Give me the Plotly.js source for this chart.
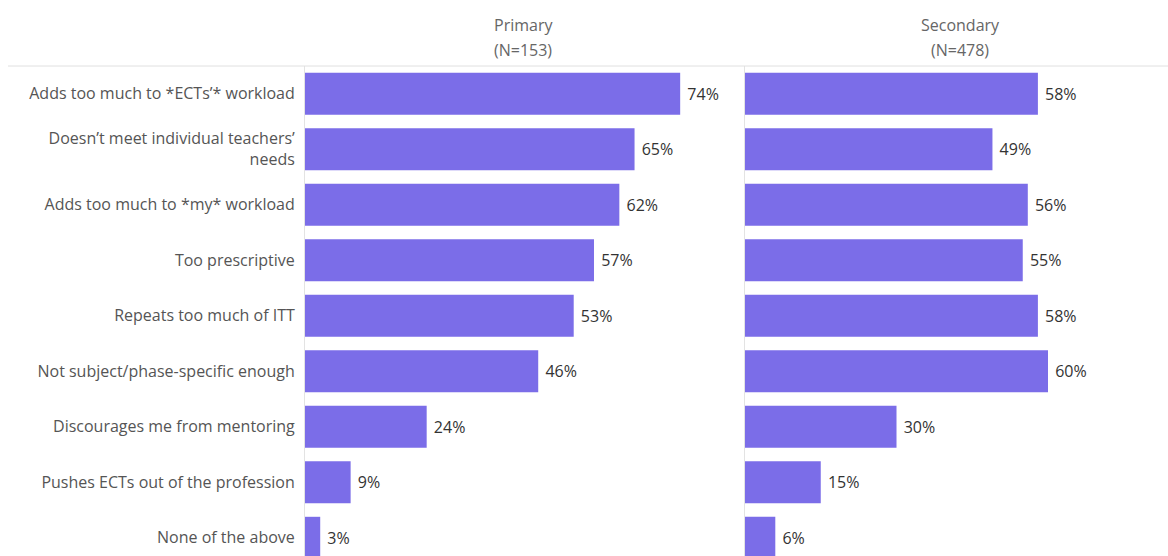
<!DOCTYPE html>
<html>
<head>
<meta charset="utf-8">
<script src="https://cdn.plot.ly/plotly-3.0.1.min.js"></script>
<style>html,body{margin:0;padding:0;background:#fff;}</style>
</head>
<body>
<div id="chart" style="width:1168px;height:556px;"></div>
<script>
const categories = [
  "Adds too much to *ECTs’* workload",
  "Doesn’t meet individual teachers’<br>needs",
  "Adds too much to *my* workload",
  "Too prescriptive",
  "Repeats too much of ITT",
  "Not subject/phase-specific enough",
  "Discourages me from mentoring",
  "Pushes ECTs out of the profession",
  "None of the above"
];
const primaryValues = [74, 65, 62, 57, 53, 46, 24, 9, 3];
const secondaryValues = [58, 49, 56, 55, 58, 60, 30, 15, 6];
const panelTitles = ["Primary", "Secondary"];
const panelNs = ["(N=153)", "(N=478)"];

(function () {
const W = 1168, H = 556;
const barColor = "#7b6de8";
const fontFam = "'Open Sans', 'DejaVu Sans', sans-serif";

function bar(vals, xa, ya) {
  return {
    type: "bar", orientation: "h",
    x: vals, y: categories,
    xaxis: xa, yaxis: ya,
    marker: {color: barColor},
    text: vals.map(v => "\u00a0" + v + "%"),
    textposition: "outside",
    textfont: {family: fontFam, size: 16, color: "#333"},
    cliponaxis: false,
    hoverinfo: "skip"
  };
}

const x1 = [305 / W, 740 / W];
const x2 = [745 / W, 1];
const topM = 66;
const plotH = H - topM;

const layout = {
  width: W, height: H,
  margin: {l: 0, r: 0, t: topM, b: 0, pad: 0},
  paper_bgcolor: "#fff", plot_bgcolor: "#fff",
  showlegend: false,
  bargap: 0.245,
  font: {family: fontFam, color: "#555", size: 16},
  xaxis: {domain: x1, range: [0, 435 / 5.07], showgrid: false, zeroline: false, showticklabels: false, ticks: "", fixedrange: true},
  xaxis2: {domain: x2, range: [0, 423 / 5.05], showgrid: false, zeroline: false, showticklabels: false, ticks: "", fixedrange: true},
  yaxis: {
    anchor: "x", type: "category", range: [-0.5 + plotH / 55.5, -0.5],
    showline: true, linecolor: "#e3e3e3", linewidth: 1,
    showgrid: false, zeroline: false, ticks: "", automargin: false,
    ticklabelstandoff: 6,
    tickfont: {family: fontFam, size: 16, color: "#555"}
  },
  yaxis2: {
    anchor: "x2", type: "category", range: [-0.5 + plotH / 55.5, -0.5],
    showline: true, linecolor: "#e3e3e3", linewidth: 1,
    showgrid: false, zeroline: false, ticks: "", showticklabels: false, automargin: false
  },
  shapes: [{
    type: "line", xref: "paper", yref: "paper",
    x0: 8 / W, x1: 1, y0: 1, y1: 1,
    line: {color: "#e0e0e0", width: 1}
  }],
  annotations: []
};

const centers = [523 / W, 960 / W];
for (let i = 0; i < 2; i++) {
  layout.annotations.push({
    xref: "paper", yref: "paper", x: centers[i], y: 1 + (topM - 25) / plotH,
    text: panelTitles[i], showarrow: false, xanchor: "center", yanchor: "middle",
    font: {family: fontFam, size: 16, color: "#666"}
  });
  layout.annotations.push({
    xref: "paper", yref: "paper", x: centers[i], y: 1 + (topM - 50) / plotH,
    text: panelNs[i], showarrow: false, xanchor: "center", yanchor: "middle",
    font: {family: fontFam, size: 16, color: "#666"}
  });
}

Plotly.newPlot("chart", [bar(primaryValues, "x", "y"), bar(secondaryValues, "x2", "y2")], layout, {displayModeBar: false, staticPlot: true});
})();
</script>
</body>
</html>
